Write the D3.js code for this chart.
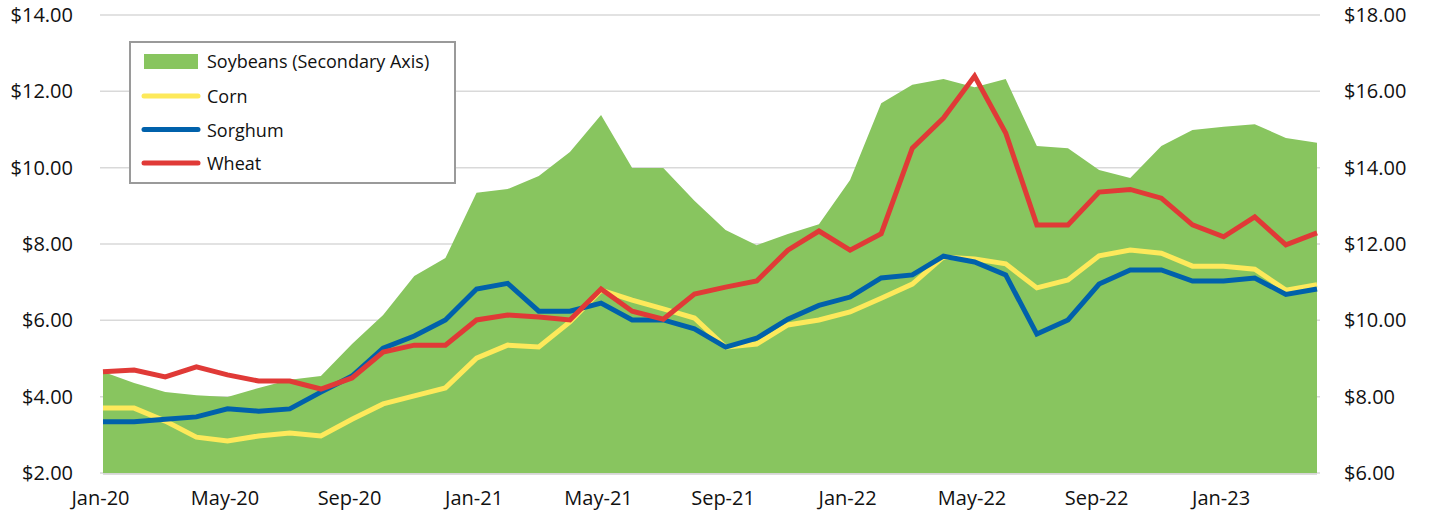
<!DOCTYPE html>
<html>
<head>
<meta charset="utf-8">
<script src="https://cdn.jsdelivr.net/npm/d3@7"></script>
<style>
  body { margin: 0; background: #fff; }
  text { font-family: "Open Sans", "Noto Sans", sans-serif; fill: #111; }
</style>
</head>
<body>
<div class="chart"></div>
<script>
// months Jan-20 .. Apr-23
const months = ["Jan-20","Feb-20","Mar-20","Apr-20","May-20","Jun-20","Jul-20","Aug-20","Sep-20","Oct-20","Nov-20","Dec-20",
  "Jan-21","Feb-21","Mar-21","Apr-21","May-21","Jun-21","Jul-21","Aug-21","Sep-21","Oct-21","Nov-21","Dec-21",
  "Jan-22","Feb-22","Mar-22","Apr-22","May-22","Jun-22","Jul-22","Aug-22","Sep-22","Oct-22","Nov-22","Dec-22",
  "Jan-23","Feb-23","Mar-23","Apr-23"];

const soybeans = [8.65,8.36,8.12,8.04,7.99,8.23,8.44,8.54,9.38,10.14,11.16,11.63,
  13.34,13.44,13.78,14.41,15.38,13.99,13.99,13.13,12.37,11.97,12.26,12.52,
  13.68,15.69,16.17,16.32,16.11,16.32,14.57,14.51,13.94,13.73,14.57,14.99,
  15.07,15.14,14.78,14.65];

const corn = [3.70,3.70,3.36,2.94,2.84,2.97,3.05,2.97,3.41,3.81,4.02,4.23,
  5.01,5.35,5.30,5.96,6.79,6.53,6.30,6.06,5.30,5.38,5.88,6.01,
  6.22,6.58,6.95,7.66,7.61,7.48,6.85,7.06,7.69,7.84,7.76,7.42,
  7.42,7.34,6.79,6.93];

const sorghum = [3.34,3.34,3.41,3.47,3.68,3.62,3.68,4.12,4.54,5.27,5.59,6.01,
  6.82,6.97,6.24,6.24,6.45,6.01,6.01,5.78,5.30,5.53,6.03,6.39,
  6.61,7.11,7.19,7.68,7.53,7.19,5.64,6.01,6.95,7.32,7.32,7.03,
  7.03,7.11,6.68,6.82];

const wheat = [4.65,4.70,4.52,4.78,4.57,4.41,4.41,4.20,4.49,5.17,5.35,5.35,
  6.01,6.14,6.09,6.01,6.82,6.24,6.03,6.69,6.87,7.03,7.84,8.34,
  7.84,8.27,10.51,11.30,12.40,10.91,8.50,8.50,9.36,9.43,9.20,8.50,
  8.19,8.71,7.98,8.29];

const leftTicks = [2,4,6,8,10,12,14];
const rightTicks = [6,8,10,12,14,16,18];
const xLabels = ["Jan-20","May-20","Sep-20","Jan-21","May-21","Sep-21","Jan-22","May-22","Sep-22","Jan-23"];

const width = 1429;
const height = 516;
const plot = { left: 103, right: 1317, top: 15, bottom: 473 };

const svg = d3.select(".chart").append("svg")
    .attr("width", width)
    .attr("height", height);

const x = d3.scalePoint().domain(months).range([plot.left, plot.right]);
const yLeft = d3.scaleLinear().domain([2, 14]).range([plot.bottom, plot.top]);
const yRight = d3.scaleLinear().domain([6, 18]).range([plot.bottom, plot.top]);

const fmt = d => "$" + d3.format(".2f")(d);

// gridlines
svg.append("g")
    .selectAll("line")
    .data(leftTicks)
    .enter()
    .append("line")
    .attr("x1", plot.left - 3)
    .attr("x2", plot.right + 3)
    .attr("y1", d => yLeft(d))
    .attr("y2", d => yLeft(d))
    .attr("stroke", "#d9d9d9")
    .attr("stroke-width", 1.5);

// soybeans area on the secondary axis
const area = d3.area()
    .x((d, i) => x(months[i]))
    .y0(yRight(6))
    .y1(d => yRight(d));

svg.append("path")
    .datum(soybeans)
    .attr("d", area)
    .attr("fill", "#88c55f");

// baseline shows just under the area
svg.append("line")
    .attr("x1", plot.left).attr("x2", plot.right)
    .attr("y1", yLeft(2) + 1).attr("y2", yLeft(2) + 1)
    .attr("stroke", "#d0d0d0")
    .attr("stroke-width", 1.5);

const line = d3.line()
    .x((d, i) => x(months[i]))
    .y(d => yLeft(d));

const series = [
    { name: "Corn", values: corn, color: "#fde95b" },
    { name: "Sorghum", values: sorghum, color: "#0061ab" },
    { name: "Wheat", values: wheat, color: "#e03a37" },
];

series.forEach(s => {
    svg.append("path")
        .datum(s.values)
        .attr("d", line)
        .attr("fill", "none")
        .attr("stroke", s.color)
        .attr("stroke-width", 5)
        .attr("stroke-linejoin", "miter");
});

// left axis
svg.append("g")
    .attr("transform", "translate(" + (plot.left - 30) + ",0)")
    .call(d3.axisLeft(yLeft).tickValues(leftTicks).tickFormat(fmt).tickSize(0).tickPadding(0))
    .call(g => g.select(".domain").remove())
    .selectAll("text")
    .attr("font-size", 20)
    .attr("font-family", null);

// right axis
svg.append("g")
    .attr("transform", "translate(" + (plot.right + 27) + ",0)")
    .call(d3.axisRight(yRight).tickValues(rightTicks).tickFormat(fmt).tickSize(0).tickPadding(0))
    .call(g => g.select(".domain").remove())
    .selectAll("text")
    .attr("font-size", 20)
    .attr("font-family", null);

// bottom axis
svg.append("g")
    .attr("transform", "translate(-3," + plot.bottom + ")")
    .call(d3.axisBottom(x).tickValues(xLabels).tickSize(0).tickPadding(18))
    .call(g => g.select(".domain").remove())
    .selectAll("text")
    .attr("font-size", 20)
    .attr("font-family", null);

// legend
const legend = svg.append("g").attr("transform", "translate(130,42)");
legend.append("rect")
    .attr("width", 325)
    .attr("height", 141)
    .attr("fill", "#fff")
    .attr("stroke", "#9a9a9a")
    .attr("stroke-width", 2);

legend.append("rect")
    .attr("x", 14).attr("y", 12)
    .attr("width", 54).attr("height", 15)
    .attr("fill", "#88c55f");
legend.append("text")
    .attr("x", 77).attr("y", 20)
    .attr("dy", "0.35em")
    .attr("font-size", 18)
    .text("Soybeans (Secondary Axis)");

series.forEach((s, i) => {
    const yy = 54 + i * 33.5;
    legend.append("line")
        .attr("x1", 14).attr("x2", 68)
        .attr("y1", yy).attr("y2", yy)
        .attr("stroke", s.color)
        .attr("stroke-width", 5)
        .attr("stroke-linecap", "round");
    legend.append("text")
        .attr("x", 77).attr("y", yy + 1)
        .attr("dy", "0.35em")
        .attr("font-size", 18)
        .text(s.name);
});
</script>
</body>
</html>
